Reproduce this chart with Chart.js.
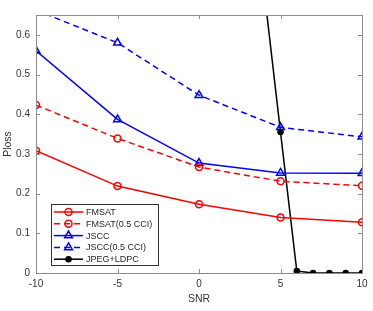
<!DOCTYPE html>
<html>
<head>
<meta charset="utf-8">
<script src="https://cdn.jsdelivr.net/npm/chart.js@4.4.1/dist/chart.umd.min.js"></script>
<style>
html, body { margin: 0; padding: 0; background: #fff; }
#wrap { width: 373px; height: 311px; }
</style>
</head>
<body>
<div id="wrap"><canvas id="c"></canvas></div>
<script>
// values
var snr = [-10, -5, 0, 5, 10];
var fmsat = [0.308, 0.219, 0.173, 0.140, 0.128];
var fmsatCci = [0.423, 0.339, 0.267, 0.231, 0.220];
var jscc = [0.560, 0.387, 0.277, 0.252, 0.251];
var jsccCci = [0.662, 0.580, 0.448, 0.367, 0.343];
var jpegSnr = [4, 5, 6, 7, 8, 9, 10];
var jpeg = [0.71, 0.355, 0.005, 0, 0, 0, 0];
var xTicks = [-10, -5, 0, 5, 10];
var yTicks = [0, 0.1, 0.2, 0.3, 0.4, 0.5, 0.6];

var FONT = '"Liberation Sans", Arial, sans-serif';
var AXIS = '#8c8c8c';

function pts(xs, ys) {
	return xs.map(function (x, i) { return { x: x, y: ys[i] }; });
}

function series(label, xs, ys, color, dash, style, radius, fill) {
	return {
		label: label,
		data: pts(xs, ys),
		borderColor: color,
		backgroundColor: fill,
		borderWidth: 1.5,
		borderDash: dash,
		pointStyle: style,
		pointRadius: radius,
		pointBorderWidth: 1.5,
		pointBorderColor: color,
		pointBackgroundColor: fill,
		tension: 0
	};
}

// box, inward tick marks and legend like the matlab figure
var matlabAxes = {
	id: 'matlabAxes',
	afterDraw: function (chart) {
		var ctx = chart.ctx, a = chart.chartArea;
		var xs = chart.scales.x, ys = chart.scales.y;
		ctx.save();
		ctx.strokeStyle = AXIS;
		ctx.lineWidth = 1;
		ctx.strokeRect(a.left + 0.5, a.top + 0.5, a.right - a.left, a.bottom - a.top);
		ctx.beginPath();
		xTicks.forEach(function (v) {
			var px = Math.round(xs.getPixelForValue(v)) + 0.5;
			ctx.moveTo(px, a.bottom); ctx.lineTo(px, a.bottom - 4);
			ctx.moveTo(px, a.top); ctx.lineTo(px, a.top + 4);
		});
		yTicks.forEach(function (v) {
			var py = Math.round(ys.getPixelForValue(v)) + 0.5;
			ctx.moveTo(a.left, py); ctx.lineTo(a.left + 4, py);
			ctx.moveTo(a.right, py); ctx.lineTo(a.right - 4, py);
		});
		ctx.stroke();

		// legend
		var bx = 51.5, by = 204.5, bw = 107, bh = 61;
		ctx.fillStyle = '#fff';
		ctx.fillRect(bx, by, bw, bh);
		ctx.strokeStyle = '#333';
		ctx.strokeRect(bx, by, bw, bh);
		ctx.font = '9px ' + FONT;
		ctx.textBaseline = 'middle';
		chart.data.datasets.forEach(function (ds, i) {
			var y = 212 + i * 11.8;
			ctx.strokeStyle = ds.borderColor;
			ctx.lineWidth = 1.5;
			ctx.setLineDash(ds.borderDash || []);
			ctx.beginPath();
			ctx.moveTo(54, y); ctx.lineTo(83, y);
			ctx.stroke();
			ctx.setLineDash([]);
			ctx.fillStyle = ds.pointBackgroundColor;
			Chart.helpers.drawPoint(ctx, {
				pointStyle: ds.pointStyle, radius: ds.pointRadius, rotation: 0, borderWidth: 1.5
			}, 68.5, y);
			ctx.fillStyle = '#262626';
			ctx.fillText(ds.label, 86, y + 0.5);
		});
		ctx.restore();
	}
};

var clear = 'rgba(255,255,255,0)';

new Chart(document.getElementById('c').getContext('2d'), {
	type: 'line',
	data: {
		datasets: [
			series('FMSAT', snr, fmsat, '#ff0000', [], 'circle', 3.5, clear),
			series('FMSAT(0.5 CCI)', snr, fmsatCci, '#ff0000', [6, 4], 'circle', 3.5, clear),
			series('JSCC', snr, jscc, '#0000ff', [], 'triangle', 4.5, clear),
			series('JSCC(0.5 CCI)', snr, jsccCci, '#0000ff', [6, 4], 'triangle', 4.5, clear),
			series('JPEG+LDPC', jpegSnr, jpeg, '#000000', [], 'circle', 2.5, '#000000')
		]
	},
	options: {
		responsive: true,
		maintainAspectRatio: false,
		animation: false,
		devicePixelRatio: 1,
		layout: { padding: { top: 15, right: 11, left: 0, bottom: 0 } },
		plugins: { legend: { display: false }, tooltip: { enabled: false } },
		scales: {
			x: {
				type: 'linear',
				min: -10, max: 10,
				afterBuildTicks: function (s) { s.ticks = xTicks.map(function (v) { return { value: v }; }); },
				afterFit: function (s) { s.height = 38; },
				grid: { display: false, drawTicks: false },
				border: { display: false },
				ticks: { color: '#333', font: { family: FONT, size: 10 }, padding: 5, maxRotation: 0 },
				title: { display: true, text: 'SNR', color: '#333', font: { family: FONT, size: 10.5 }, padding: { top: 1, bottom: 5.5 } }
			},
			y: {
				type: 'linear',
				min: 0, max: 0.65,
				afterBuildTicks: function (s) { s.ticks = yTicks.map(function (v) { return { value: v }; }); },
				afterFit: function (s) { s.width = 36; },
				grid: { display: false, drawTicks: false },
				border: { display: false },
				ticks: { color: '#333', font: { family: FONT, size: 10 }, padding: 6,
					callback: function (v) { return v === 0 ? '0' : v.toFixed(1); } },
				title: { display: true, text: 'Ploss', color: '#333', font: { family: FONT, size: 10.5 }, padding: { top: 2, bottom: 0 } }
			}
		}
	},
	plugins: [matlabAxes]
});
</script>
</body>
</html>
